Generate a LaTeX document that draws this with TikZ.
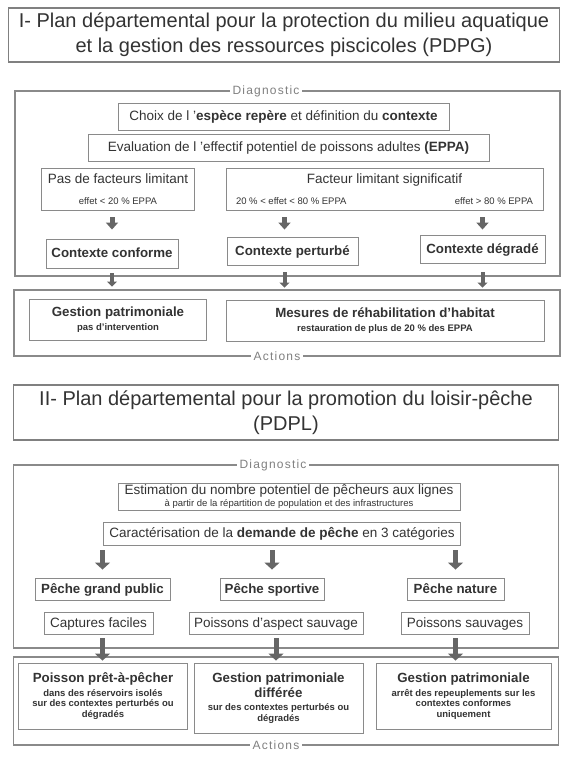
\documentclass[tikz,border=0pt]{standalone}
\usepackage{fontspec}
\setmainfont{Liberation Sans}
\newfontfamily\tagfont{Liberation Sans}[LetterSpace=10]
\usetikzlibrary{arrows.meta}

\definecolor{inkgray}{HTML}{333333}
\definecolor{linegray}{HTML}{8A8A8A}
\definecolor{arrowgray}{HTML}{666666}

\newcommand{\petit}[1]{{\fontsize{9.5}{11}\selectfont #1}}
\newcommand{\tete}[1]{{\fontsize{13.3}{16}\selectfont\bfseries #1}}

\begin{document}
\begin{tikzpicture}[x=1pt, y=-1pt,
    base/.style={draw=linegray, line width=0.9pt, fill=white, text=inkgray, inner sep=0pt,
      font=\fontsize{13.5}{16}\selectfont},
    box/.style={base, text height=9pt, text depth=0.5pt},
    multi/.style={base, align=center},
    boldbox/.style={box, font=\fontsize{13.3}{16}\selectfont\bfseries},
    notebox/.style={multi, font=\fontsize{9.5}{10.5}\selectfont\bfseries},
    titlebox/.style={multi, draw=gray, line width=1.1pt, font=\fontsize{20}{25}\selectfont},
    frame/.style={draw=linegray, line width=1.1pt, inner sep=0pt},
    tag/.style={fill=white, text=gray, inner xsep=3pt, inner ysep=1pt, font=\tagfont\fontsize{12}{14}\selectfont},
    fat/.style={draw=arrowgray, line width=5pt, -{Triangle[width=12pt,length=7pt]}},
    fatter/.style={draw=arrowgray, line width=5pt, -{Triangle[width=15pt,length=7pt]}},
    thin arrow/.style={draw=arrowgray, line width=4pt, -{Triangle[width=10pt,length=5pt]}}]

  \useasboundingbox (0,0) rectangle (567,757);

  % I - PDPG
  \node[titlebox, minimum width=551, minimum height=54] (titleA) at (284,35)
    {I- Plan départemental pour la protection du milieu aquatique\\et la gestion des ressources piscicoles (PDPG)};

  \node[frame, minimum width=545, minimum height=185] (diagA) at (287.5,183.5) {};
  \node[tag] (diagAtag) at (266,91) {Diagnostic};

  \node[box, minimum width=331, minimum height=27] (choix) at (283.5,116.5)
    {Choix de l '\textbf{espèce repère} et définition du \textbf{contexte}};
  \node[box, minimum width=401, minimum height=27] (eppa) at (288.5,147.5)
    {Evaluation de l 'effectif potentiel de poissons adultes \textbf{(EPPA)}};
  \node[multi, minimum width=153, minimum height=42] (pas) at (118,189)
    {Pas de facteurs limitant\\[5pt]\petit{effet < 20 \% EPPA}};
  \node[multi, minimum width=317, minimum height=42] (fact) at (384.5,189)
    {Facteur limitant significatif\\[5pt]\makebox[297pt]{\petit{20 \% < effet < 80 \% EPPA}\hfill\petit{effet > 80 \% EPPA}}};

  \node[boldbox, minimum width=132, minimum height=29] (conf) at (112,253.5) {Contexte conforme};
  \node[boldbox, minimum width=131, minimum height=28] (pert) at (292.5,251) {Contexte perturbé};
  \node[boldbox, minimum width=125, minimum height=28] (degr) at (482.5,249) {Contexte dégradé};

  \draw[fat, shorten <=7pt, shorten >=9pt] (pas.south -| conf.north) -- (conf.north);
  \draw[fat, shorten <=7pt, shorten >=7pt] ([xshift=-8pt]fact.south -| pert.north) -- ([xshift=-8pt]pert.north);
  \draw[fat, shorten <=7pt, shorten >=5pt] (fact.south -| degr.north) -- (degr.north);

  \node[frame, minimum width=546, minimum height=66] (actA) at (287,323) {};
  \node[tag] (actAtag) at (277,356) {Actions};

  \node[notebox, minimum width=177, minimum height=41] (gest) at (118,319.5)
    {\tete{Gestion patrimoniale}\\[3pt]pas d'intervention};
  \node[notebox, minimum width=318, minimum height=41] (mes) at (385,320.5)
    {\tete{Mesures de réhabilitation d'habitat}\\[3pt]restauration de plus de 20 \% des EPPA};

  \draw[thin arrow, shorten <=5pt, shorten >=12pt] (conf.south) -- (conf.south |- gest.north);
  \draw[thin arrow, shorten <=7pt, shorten >=12pt] ([xshift=-8pt]pert.south) -- ([xshift=-8pt]pert.south |- mes.north);
  \draw[thin arrow, shorten <=9pt, shorten >=12pt] (degr.south) -- (degr.south |- mes.north);

  % II - PDPL
  \node[titlebox, minimum width=545, minimum height=55] (titleB) at (286,412.5)
    {II- Plan départemental pour la promotion du loisir-pêche\\(PDPL)};

  \node[frame, minimum width=545, minimum height=183] (diagB) at (286,556.5) {};
  \node[tag] (diagBtag) at (273,465) {Diagnostic};

  \node[multi, minimum width=342, minimum height=27] (estim) at (289,496.5)
    {Estimation du nombre potentiel de pêcheurs aux lignes\\[-4pt]\petit{à partir de la répartition de population et des infrastructures}};
  \node[box, minimum width=357, minimum height=23] (carac) at (282,533.5)
    {Caractérisation de la \textbf{demande de pêche} en 3 catégories};

  \node[boldbox, minimum width=135, minimum height=22] (grand) at (102.5,589) {Pêche grand public};
  \node[boldbox, minimum width=104, minimum height=22] (sport) at (272,589) {Pêche sportive};
  \node[boldbox, minimum width=97, minimum height=22] (nature) at (455.5,589) {Pêche nature};

  \node[box, minimum width=109, minimum height=22] (capt) at (98.5,623) {Captures faciles};
  \node[box, minimum width=174, minimum height=22] (aspect) at (276,623) {Poissons d'aspect sauvage};
  \node[box, minimum width=128, minimum height=22] (sauv) at (465,623) {Poissons sauvages};

  \foreach \cat in {grand, sport, nature}
    \draw[fatter, shorten <=5pt, shorten >=8pt] (carac.south -| \cat.north) -- (\cat.north);

  \node[frame, minimum width=545, minimum height=88] (actB) at (286,701) {};
  \node[tag] (actBtag) at (276,745) {Actions};

  \node[notebox, minimum width=169, minimum height=66] (pret) at (103,696)
    {\tete{Poisson prêt-à-pêcher}\\[3pt]dans des réservoirs isolés\\sur des contextes perturbés ou\\dégradés};
  \node[notebox, minimum width=169, minimum height=70] (diff) at (278.5,698)
    {\tete{Gestion patrimoniale}\\[1pt]\tete{différée}\\[3pt]sur des contextes perturbés ou\\dégradés};
  \node[notebox, minimum width=175, minimum height=66] (arret) at (463.5,696)
    {\tete{Gestion patrimoniale}\\[3pt]arrêt des repeuplements sur les\\contextes conformes\\uniquement};

  \draw[fatter, shorten <=4pt, shorten >=2pt] (capt.south -| grand.south) -- (pret.north -| grand.south);
  \draw[fatter, shorten <=4pt, shorten >=2pt] (aspect.south) -- (diff.north -| aspect.south);
  \draw[fatter, shorten <=4pt, shorten >=2pt] (sauv.south -| nature.south) -- (arret.north -| nature.south);
\end{tikzpicture}
\end{document}
